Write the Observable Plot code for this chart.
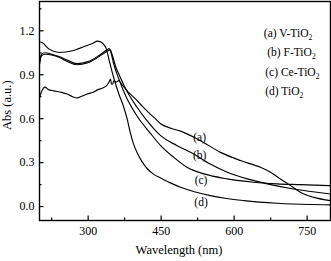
<!DOCTYPE html>
<html>
<head>
<meta charset="utf-8">
<script src="https://cdn.jsdelivr.net/npm/d3@7"></script>
<script src="https://cdn.jsdelivr.net/npm/@observablehq/plot@0.6"></script>
<style>
  html, body { margin: 0; padding: 0; background: #fff; }
  #chart svg { display: block; font-family: "Liberation Serif", serif; }
  #chart svg text { font-family: "Liberation Serif", serif; }
</style>
</head>
<body>
<div id="chart"></div>
<script>
// ---- data ----
const seriesNames = ["(a) V-TiO2", "(b) F-TiO2", "(c) Ce-TiO2", "(d) TiO2"];
const tailLabels = ["(a)", "(b)", "(c)", "(d)"];

const aNm  = [200,205,211,218,229,245,257,268,277,288,298,310,318,330,339,343,346,348,350,353,357,363,370,380,394,410,425,438,449,470,490,531,572,613,654,675,695,716,736,764,798];
const aAbs = [0.745,0.79,0.815,0.80,0.79,0.78,0.768,0.75,0.741,0.755,0.768,0.78,0.795,0.81,0.83,0.85,0.87,0.835,0.835,0.86,0.85,0.86,0.83,0.79,0.745,0.69,0.64,0.60,0.565,0.535,0.515,0.45,0.37,0.314,0.268,0.234,0.189,0.143,0.098,0.063,0.041];

const bNm  = [200,204,212,225,240,257,277,298,318,339,345,350,356,365,381,400,420,438,449,483,517,551,586,627,668,722,798];
const bAbs = [0.97,1.03,1.04,1.035,1.02,0.99,0.968,0.98,1.015,1.06,1.07,1.03,0.96,0.89,0.78,0.68,0.59,0.52,0.484,0.416,0.359,0.29,0.234,0.189,0.155,0.12,0.086];

const cNm  = [200,204,212,225,240,257,277,298,318,339,343,347,352,362,377,400,428,449,476,503,538,586,640,688,736,798];
const cAbs = [0.98,1.04,1.05,1.04,1.025,1.0,0.976,0.988,1.022,1.07,1.078,1.05,0.98,0.88,0.757,0.62,0.50,0.416,0.336,0.268,0.223,0.189,0.166,0.155,0.15,0.143];

const dNm  = [200,205,220,241,268,296,310,319,325,331,337,343,350,357,364,372,380,387,393,401,410,421,435,449,470,490,520,551,585,620,688,757,798];
const dAbs = [1.125,1.12,1.075,1.052,1.064,1.098,1.115,1.13,1.125,1.11,1.08,1.0,0.91,0.83,0.76,0.69,0.60,0.50,0.43,0.365,0.31,0.26,0.22,0.195,0.16,0.132,0.10,0.075,0.055,0.041,0.023,0.014,0.012];

const xMajorTicks = [300, 450, 600, 750];
const xMinorTicks = [225, 375, 525, 675];
const yMajorTicks = [0.0, 0.3, 0.6, 0.9, 1.2];
const yMinorTicks = [0.15, 0.45, 0.75, 1.05, 1.35];

// ---- build table ----
const cols = [[aNm, aAbs], [bNm, bAbs], [cNm, cAbs], [dNm, dAbs]];
const rows = [];
cols.forEach(([xs, ys], k) => xs.forEach((x, i) => rows.push({series: seriesNames[k], nm: x, abs: ys[i]})));

const W = 331, H = 261;
const mL = 39, mR = 1, mT = 1, mB = 41;
const frameH = H - mT - mB, frameW = W - mL - mR;
const font = "Liberation Serif";

// legend placement (data space), tail label placement
const legendPos = [[661, 1.184], [668, 1.052], [664, 0.920], [664, 0.786]];
const tailPos = [[529, 0.472], [529, 0.348], [532, 0.177], [532, 0.029]];

const chart = Plot.plot({
  width: W, height: H,
  marginLeft: mL, marginRight: mR, marginTop: mT, marginBottom: mB,
  style: {fontFamily: font, fontSize: "12px", color: "#000", background: "#fff"},
  x: {domain: [200, 798]},
  y: {domain: [-0.095, 1.4]},
  marks: [
    Plot.axisX({ticks: xMajorTicks, tickSize: 0, tickPadding: 6, tickFormat: d => String(d), label: null, fontSize: 12}),
    Plot.axisY({ticks: yMajorTicks, tickSize: 0, tickPadding: 5, tickFormat: d3.format(".1f"), label: null, fontSize: 12}),
    Plot.tickX(xMajorTicks, {x: d => d, insetTop: frameH - 4.5, stroke: "#000", strokeWidth: 1.2}),
    Plot.tickX(xMinorTicks, {x: d => d, insetTop: frameH - 2.5, stroke: "#000", strokeWidth: 1.2}),
    Plot.tickY(yMajorTicks, {y: d => d, insetRight: frameW - 4.5, stroke: "#000", strokeWidth: 1.2}),
    Plot.tickY(yMinorTicks, {y: d => d, insetRight: frameW - 2.5, stroke: "#000", strokeWidth: 1.2}),
    Plot.line(rows, {x: "nm", y: "abs", z: "series", stroke: "#000", strokeWidth: 1.15, curve: "monotone-x"}),
    Plot.text(seriesNames, {x: (d, i) => legendPos[i][0], y: (d, i) => legendPos[i][1], text: d => d, textAnchor: "start", fontSize: 11.5, fill: "#000"}),
    Plot.text(tailLabels, {x: (d, i) => tailPos[i][0], y: (d, i) => tailPos[i][1], text: d => d, fontSize: 11.5, fill: "#000"}),
    Plot.text(["Wavelength (nm)"], {frameAnchor: "bottom", dx: -6, dy: 33, text: d => d, fontSize: 12.5, fill: "#000"}),
    Plot.text(["Abs (a.u.)"], {frameAnchor: "left", dx: -33, dy: 19, rotate: -90, text: d => d, fontSize: 12.5, fill: "#000"}),
    Plot.frame({stroke: "#000", strokeWidth: 1.4})
  ]
});

// subscript the "2" in TiO2 labels
chart.querySelectorAll("text").forEach(t => {
  const s = t.textContent;
  if (/TiO2$/.test(s) && t.children.length === 0) {
    t.textContent = "";
    const NS = "http://www.w3.org/2000/svg";
    const a = document.createElementNS(NS, "tspan");
    a.textContent = s.slice(0, -1);
    const b = document.createElementNS(NS, "tspan");
    b.textContent = "2";
    b.setAttribute("dy", "3");
    b.setAttribute("font-size", "7.5");
    t.appendChild(a); t.appendChild(b);
  }
});

document.getElementById("chart").appendChild(chart);
</script>
</body>
</html>
